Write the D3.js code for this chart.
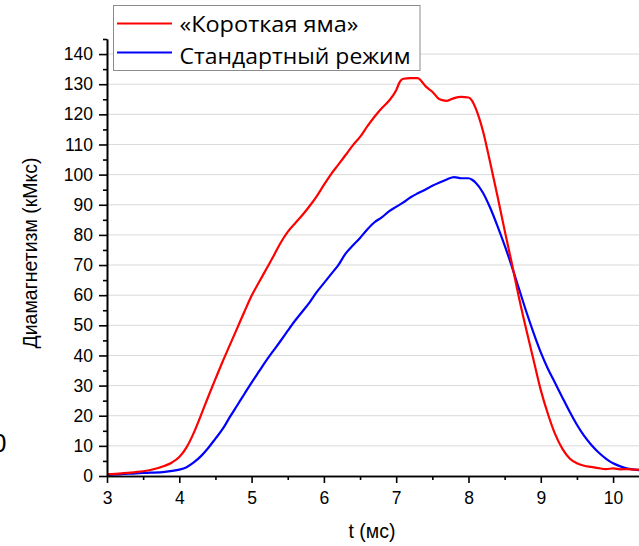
<!DOCTYPE html>
<html>
<head>
<meta charset="utf-8">
<script src="https://cdn.jsdelivr.net/npm/d3@7"></script>
<style>
  html, body { margin: 0; padding: 0; background: #fff; }
  svg { display: block; }
</style>
</head>
<body>
<svg id="chart" width="639" height="546"></svg>
<script>
// Time samples (ms) and diamagnetic signal (kMx) for both regimes
const tShort = [3.0,3.2,3.4,3.6,3.8,3.9,4.0,4.1,4.2,4.3,4.4,4.5,4.6,4.7,4.8,4.9,5.0,5.1,5.2,5.3,5.4,5.5,5.6,5.7,5.8,5.9,6.0,6.1,6.2,6.3,6.4,6.5,6.6,6.7,6.8,6.9,7.0,7.05,7.1,7.2,7.3,7.35,7.4,7.5,7.6,7.7,7.8,7.9,8.0,8.05,8.1,8.2,8.3,8.4,8.5,8.6,8.7,8.8,8.9,9.0,9.1,9.2,9.3,9.4,9.5,9.6,9.7,9.8,9.9,10.0,10.1,10.2,10.3,10.4];
const shortWell = [0.6,0.9,1.3,2.0,3.4,4.5,6.3,9.5,14.3,20.2,26.3,32.2,38.0,43.5,49.0,54.5,59.8,64.2,68.5,72.8,77.3,81.0,83.8,86.5,89.5,92.8,96.6,100.2,103.3,106.5,109.7,112.5,116.0,119.2,122.0,124.5,128.0,130.8,131.8,132.0,132.0,131.0,129.5,127.5,125.0,124.5,125.4,125.8,125.6,124.5,122.0,114.5,104.0,93.0,81.5,70.5,59.0,48.5,38.5,28.5,20.5,13.8,9.0,5.8,4.2,3.4,3.0,2.6,2.3,2.5,2.2,2.3,2.1,2.1];

const tStd = [3.0,3.2,3.4,3.6,3.8,3.9,4.0,4.1,4.2,4.3,4.4,4.5,4.6,4.7,4.8,4.9,5.0,5.1,5.2,5.3,5.4,5.5,5.6,5.7,5.8,5.9,6.0,6.1,6.2,6.3,6.4,6.5,6.6,6.7,6.8,6.9,7.0,7.1,7.2,7.3,7.4,7.5,7.6,7.7,7.8,7.9,8.0,8.05,8.1,8.2,8.3,8.4,8.5,8.6,8.7,8.8,8.9,9.0,9.1,9.2,9.3,9.4,9.5,9.6,9.7,9.8,9.9,10.0,10.1,10.2,10.3,10.4];
const standard = [0.4,0.6,0.9,1.1,1.4,1.7,2.1,2.9,4.5,6.6,9.3,12.4,15.6,19.6,23.4,27.2,31.0,34.6,38.2,41.5,44.8,48.2,51.5,54.5,57.5,61.0,64.0,67.0,70.0,73.8,76.5,79.0,81.8,84.2,85.8,87.8,89.3,90.8,92.5,93.8,95.0,96.3,97.4,98.4,99.2,98.8,98.8,98.3,97.3,94.0,89.0,83.0,76.5,69.5,62.0,54.5,47.5,41.0,35.5,30.8,26.0,21.3,17.0,13.3,10.3,7.8,5.8,4.2,3.2,2.5,2.1,1.9];

const seriesNames = ["«Короткая яма»", "Стандартный режим"];
const seriesColors = ["#ff0000", "#0000ff"];

const xMajor = [3,4,5,6,7,8,9,10];
const xMinor = [3.5,4.5,5.5,6.5,7.5,8.5,9.5];
const yMajor = [0,10,20,30,40,50,60,70,80,90,100,110,120,130,140];
const yMinor = [5,15,25,35,45,55,65,75,85,95,105,115,125,135,145];

const svg = d3.select("#chart");
const W = 639;

const x = d3.scaleLinear().domain([3, 10.4]).range([107, 642]);
const y = d3.scaleLinear().domain([0, 145]).range([476, 39]);

// horizontal grid
svg.append("g")
  .selectAll("line")
  .data(yMajor.filter(v => v > 0))
  .join("line")
  .attr("x1", x(3)).attr("x2", W)
  .attr("y1", d => y(d)).attr("y2", d => y(d))
  .attr("stroke", "#d9d9d9").attr("stroke-width", 1);

// partial glyph at the left edge
svg.append("text")
  .attr("x", 6.5).attr("y", 452)
  .attr("text-anchor", "end")
  .style("font", "26px 'Liberation Sans', Arial, sans-serif")
  .text("0");

// curves
svg.append("clipPath").attr("id", "plotclip")
  .append("rect").attr("x", x(3)).attr("y", 0).attr("width", W - x(3)).attr("height", y(0) + 1);

const line = d3.line().x(d => x(d[0])).y(d => y(d[1])).curve(d3.curveMonotoneX);
const series = [
  tShort.map((t, i) => [t, shortWell[i]]),
  tStd.map((t, i) => [t, standard[i]])
];
const plot = svg.append("g").attr("clip-path", "url(#plotclip)");
[1, 0].forEach(k => {
  plot.append("path")
    .datum(series[k])
    .attr("d", line)
    .attr("fill", "none")
    .attr("stroke", seriesColors[k])
    .attr("stroke-width", 2.2)
    .attr("stroke-linejoin", "round");
});

// axes
const tickFont = "17.5px 'Liberation Sans', Arial, sans-serif";
function styleAxis(g) {
  g.select(".domain").attr("stroke", "#000").attr("stroke-width", 1.6);
  g.selectAll(".tick line").attr("stroke", "#000").attr("stroke-width", 1.6);
  g.selectAll("text").style("font", tickFont).attr("fill", "#000");
}

svg.append("g").attr("transform", `translate(0,${y(0)})`)
  .call(d3.axisBottom(x).tickValues(xMinor).tickSize(4).tickSizeOuter(0).tickFormat(""))
  .call(styleAxis);
svg.append("g").attr("transform", `translate(0,${y(0)})`)
  .call(d3.axisBottom(x).tickValues(xMajor).tickSize(7).tickSizeOuter(0).tickPadding(9).tickFormat(d3.format("d")))
  .call(styleAxis);

svg.append("g").attr("transform", `translate(${x(3)},0)`)
  .call(d3.axisLeft(y).tickValues(yMinor).tickSize(4).tickSizeOuter(0).tickFormat(""))
  .call(styleAxis);
svg.append("g").attr("transform", `translate(${x(3)},0)`)
  .call(d3.axisLeft(y).tickValues(yMajor).tickSize(8).tickSizeOuter(0).tickPadding(6).tickFormat(d3.format("d")))
  .call(styleAxis);

// axis titles
svg.append("text")
  .attr("x", 372).attr("y", 538)
  .attr("text-anchor", "middle")
  .style("font", "19.5px 'Liberation Sans', Arial, sans-serif")
  .text("t (мс)");

svg.append("text")
  .attr("transform", "translate(37,253) rotate(-90)")
  .attr("text-anchor", "middle")
  .style("font", "19.5px 'Liberation Sans', Arial, sans-serif")
  .text("Диамагнетизм (кМкс)");

// legend
const lg = svg.append("g");
lg.append("rect")
  .attr("x", 113.5).attr("y", 5.5).attr("width", 306.5).attr("height", 65)
  .attr("fill", "#fff").attr("stroke", "#8c8c8c").attr("stroke-width", 1);
const legendRows = [{ yLine: 23.5, yText: 31.7, w: 179 }, { yLine: 52.5, yText: 64, w: 231 }];
legendRows.forEach((r, i) => {
  lg.append("line")
    .attr("x1", 117).attr("x2", 172)
    .attr("y1", r.yLine).attr("y2", r.yLine)
    .attr("stroke", seriesColors[i]).attr("stroke-width", 2.2);
  lg.append("text")
    .attr("x", 179.5).attr("y", r.yText)
    .attr("textLength", r.w).attr("lengthAdjust", "spacingAndGlyphs")
    .style("font", "22px 'Open Sans', 'Noto Sans', sans-serif")
    .text(seriesNames[i]);
});
</script>
</body>
</html>
